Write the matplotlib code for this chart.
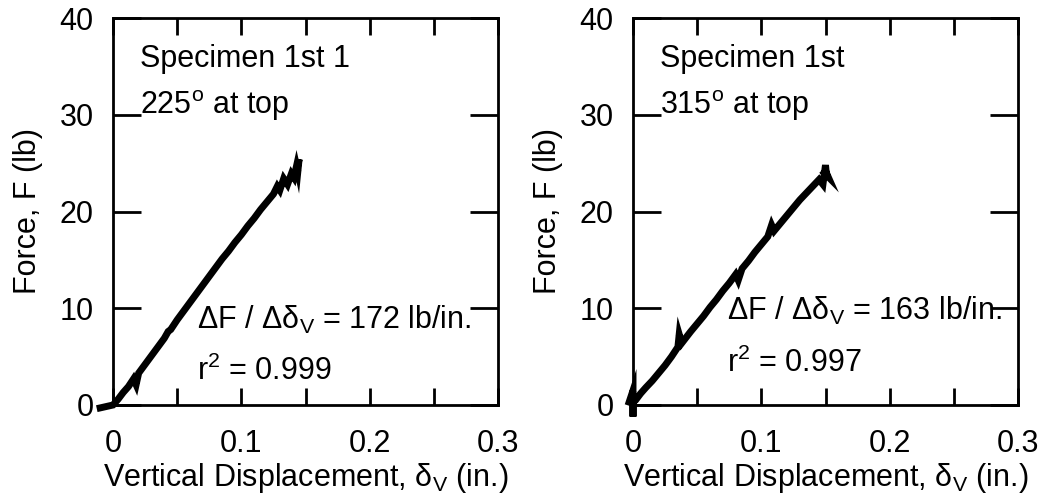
import matplotlib
matplotlib.use('Agg')
import matplotlib.pyplot as plt
from matplotlib.ticker import MultipleLocator, FuncFormatter

plt.rcParams['font.family'] = ['Liberation Sans', 'DejaVu Sans']
plt.rcParams['mathtext.fontset'] = 'custom'
plt.rcParams['mathtext.rm'] = 'Liberation Sans'
plt.rcParams['mathtext.it'] = 'Liberation Sans'
plt.rcParams['mathtext.sf'] = 'Liberation Sans'

# specimen 1st 1, 225 deg at top
disp_225 = [-0.010, 0.000, 0.004, 0.008, 0.012, 0.016, 0.018, 0.020, 0.025, 0.030,
            0.035, 0.040, 0.043, 0.045, 0.050, 0.055, 0.060, 0.065, 0.070, 0.075,
            0.080, 0.085, 0.090, 0.095, 0.100, 0.105, 0.110, 0.115, 0.120, 0.125,
            0.128, 0.130, 0.133, 0.136, 0.139, 0.141, 0.143, 0.144, 0.145, 0.144]
force_225 = [-0.3, 0.0, 0.6, 1.3, 1.9, 2.7, 2.1, 3.3, 4.2, 5.1,
             6.0, 6.9, 7.6, 7.8, 8.8, 9.7, 10.6, 11.5, 12.4, 13.3,
             14.2, 15.1, 15.9, 16.8, 17.6, 18.5, 19.3, 20.2, 21.0, 21.8,
             22.6, 22.2, 23.4, 22.8, 23.9, 23.5, 24.7, 24.1, 25.4, 24.8]

# specimen 1st, 315 deg at top
disp_315 = [-0.003, 0.000, 0.000, 0.000, 0.002, 0.006, 0.010, 0.015, 0.020, 0.025,
            0.030, 0.035, 0.036, 0.038, 0.045, 0.050, 0.055, 0.060, 0.065, 0.070,
            0.075, 0.080, 0.082, 0.085, 0.090, 0.095, 0.100, 0.105, 0.108, 0.110,
            0.115, 0.120, 0.125, 0.130, 0.135, 0.140, 0.145, 0.148, 0.150, 0.151,
            0.150, 0.152, 0.149]
force_315 = [0.3, 1.5, -1.2, 0.4, 0.5, 1.2, 1.8, 2.5, 3.3, 4.1,
             5.0, 6.0, 7.3, 6.4, 7.6, 8.4, 9.2, 10.1, 10.9, 11.8,
             12.6, 13.5, 12.9, 14.1, 14.9, 15.8, 16.6, 17.4, 18.6, 18.0,
             18.8, 19.6, 20.4, 21.2, 21.9, 22.6, 23.3, 22.8, 24.8, 23.4,
             24.2, 23.6, 24.0]

panels = [
    (disp_225, force_225, 'Specimen 1st 1', '225', '172', '0.999', 0.0655, 7.9, 2.6),
    (disp_315, force_315, 'Specimen 1st', '315', '163', '0.997', 0.073, 8.8, 3.4),
]

FS = 22

fig = plt.figure(figsize=(10.43, 5.04), dpi=100)
lefts = [113 / 1043, 633 / 1043]
for left, (x, y, name, ang, slope, r2, tx, ty1, ty2) in zip(lefts, panels):
    ax = fig.add_axes([left, 99 / 504, 385 / 1043, 387 / 504])
    ax.plot(x, y, color='black', lw=5, solid_joinstyle='miter', clip_on=False)
    ax.set_xlim(0, 0.3)
    ax.set_ylim(0, 40)
    ax.xaxis.set_major_locator(MultipleLocator(0.1))
    ax.xaxis.set_minor_locator(MultipleLocator(0.05))
    ax.yaxis.set_major_locator(MultipleLocator(10))
    ax.xaxis.set_major_formatter(FuncFormatter(
        lambda v, p: '0' if abs(v) < 1e-9 else '%.1f' % v))
    ax.tick_params(axis='x', which='both', direction='in', top=True, bottom=True,
                   length=12, width=2, labelsize=FS, pad=17)
    ax.tick_params(axis='y', which='both', direction='in', left=True, right=True,
                   length=20, width=2, labelsize=FS, pad=14)
    for s in ax.spines.values():
        s.set_linewidth(2)
    ax.set_xlabel(r'Vertical Displacement, δ$_\mathrm{V}$ (in.)', fontsize=FS, labelpad=2)
    ax.set_ylabel('Force, F (lb)', fontsize=FS, labelpad=12)
    ax.text(0.021, 34.9, name, fontsize=FS, va='baseline')
    ax.text(0.021, 30.1, ang + r'$^\mathrm{o}$ at top', fontsize=FS, va='baseline')
    ax.text(tx, ty1, r'ΔF / Δδ$_\mathrm{V}$ = ' + slope + ' lb/in.', fontsize=FS, va='baseline')
    ax.text(tx, ty2, r'r$^\mathrm{2}$ = ' + r2, fontsize=FS, va='baseline')

fig.savefig('out.png', dpi=100)
